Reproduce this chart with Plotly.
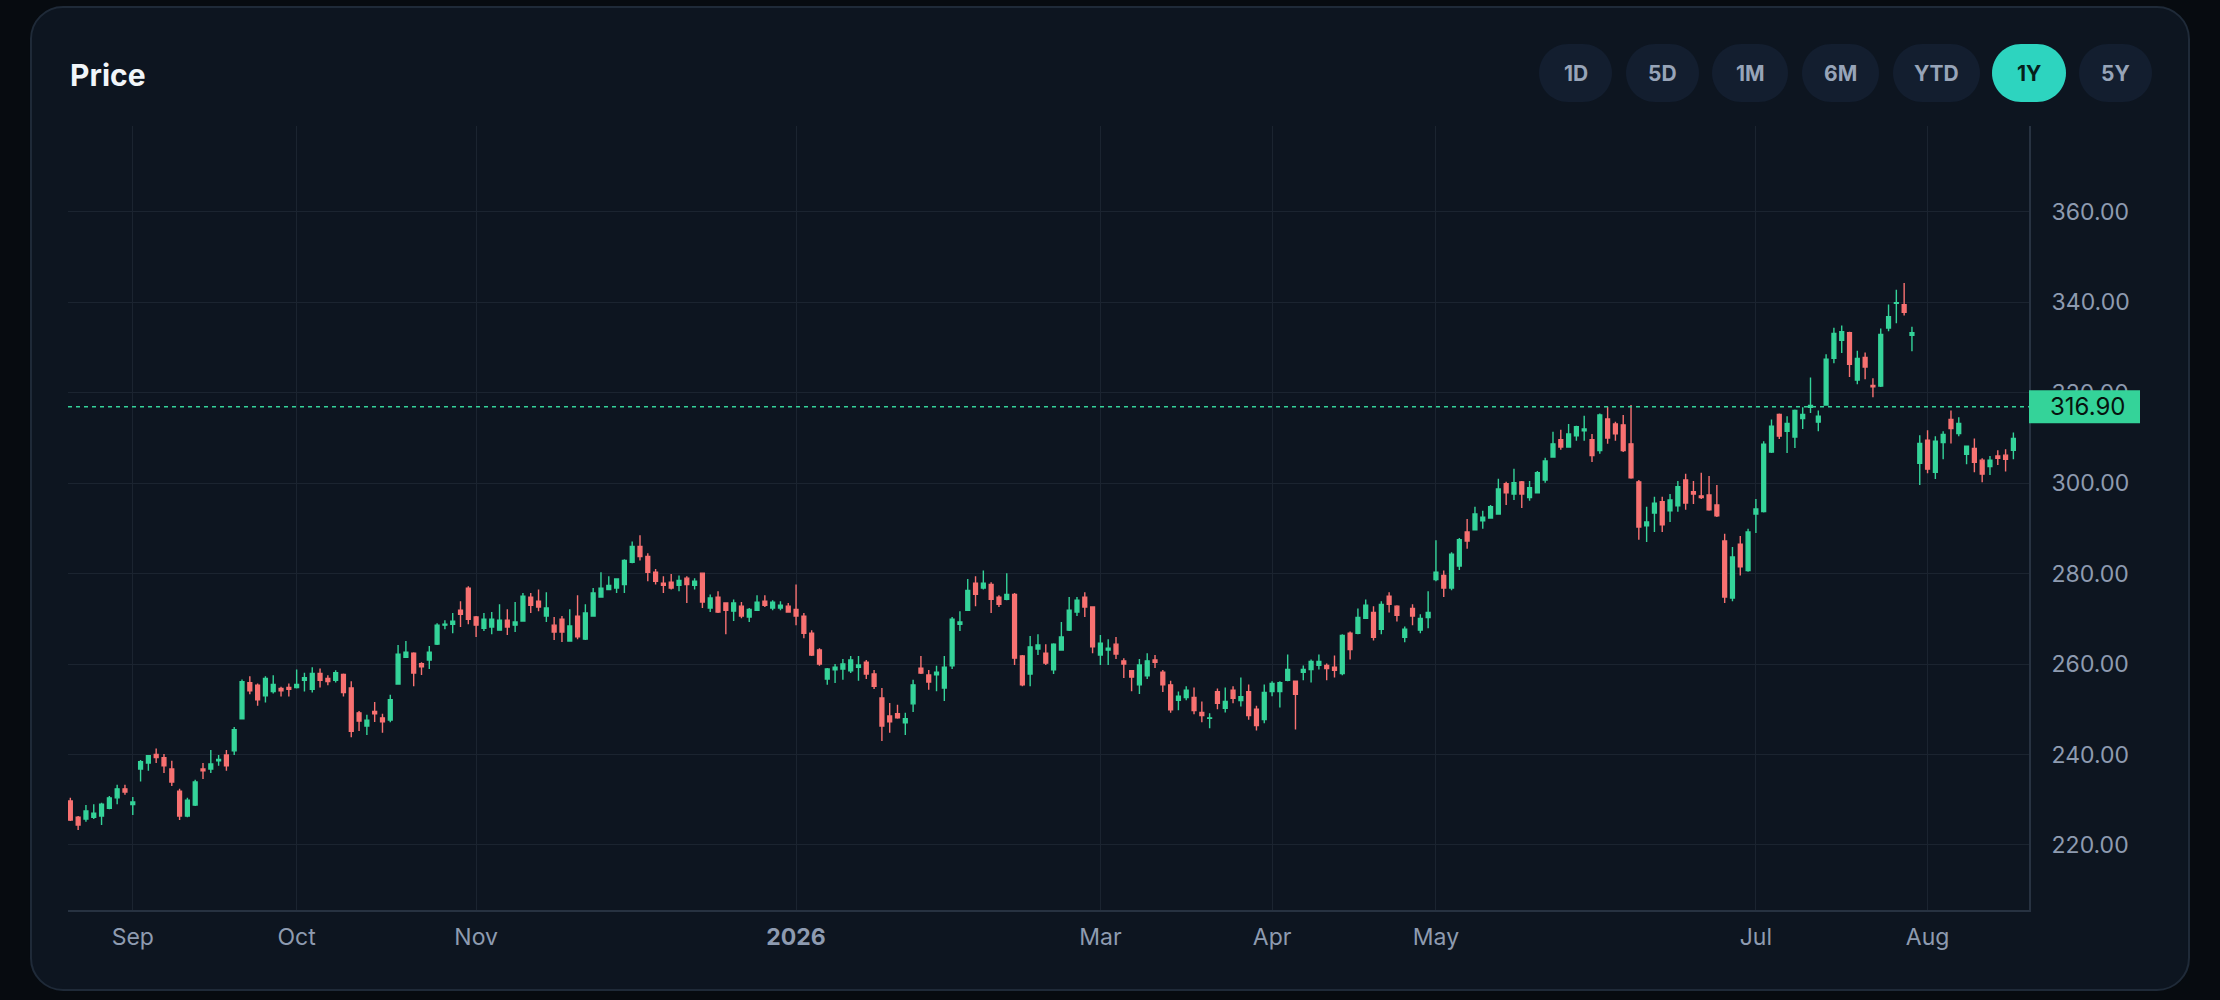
import pandas as pd
import plotly.graph_objects as go

# Trading calendar for the 1Y window (weekends and US market holidays are skipped)
START_DATE = "2025-08-20"
END_DATE = "2026-08-18"
HOLIDAYS = ["2025-09-01", "2025-11-27", "2025-12-25", "2026-01-01", "2026-01-19",
            "2026-02-16", "2026-04-03", "2026-05-25", "2026-06-19", "2026-07-03"]

# OHLC values
open_ = [229.7, 226.1, 225.7, 226.1, 226.4, 228.1, 230.4, 232.4, 228.9, 236.8,
         238.1, 240.0, 239.3, 236.8, 231.9, 226.4, 228.8, 236.8, 236.8, 238.6,
         239.9, 240.8, 247.9, 255.9, 255.3, 253.0, 253.9, 254.6, 254.8, 254.8,
         256.4, 254.4, 257.9, 256.8, 256.4, 257.7, 254.7, 249.2, 246.3, 249.5,
         248.1, 247.6, 255.6, 261.5, 262.4, 260.1, 260.9, 264.4, 268.6, 268.8,
         271.9, 276.8, 270.4, 267.9, 268.2, 267.5, 269.7, 268.6, 269.5, 274.8,
         273.9, 270.6, 268.6, 269.9, 265.1, 270.6, 265.5, 270.6, 274.8, 276.5,
         276.8, 277.6, 282.5, 286.0, 283.8, 280.3, 277.9, 278.1, 277.4, 279.0,
         277.4, 280.1, 272.4, 274.8, 273.5, 271.7, 272.8, 270.4, 271.9, 273.9,
         272.4, 272.4, 272.8, 272.1, 270.6, 266.8, 263.1, 256.7, 258.7, 258.9,
         258.5, 259.3, 260.4, 257.8, 252.5, 248.5, 249.0, 247.0, 251.2, 259.1,
         257.6, 257.6, 254.7, 259.6, 268.8, 271.9, 277.9, 276.8, 277.6, 274.8,
         274.3, 275.4, 261.8, 257.8, 263.3, 262.4, 258.7, 263.1, 267.5, 271.5,
         274.8, 272.6, 262.0, 263.1, 264.4, 260.7, 258.5, 255.4, 257.4, 260.9,
         258.2, 255.4, 252.0, 252.6, 252.6, 249.3, 248.0, 253.9, 250.2, 254.2,
         251.9, 253.9, 250.0, 247.7, 253.9, 253.9, 256.4, 256.2, 258.2, 258.8,
         259.7, 259.7, 259.3, 257.9, 266.8, 266.8, 270.1, 271.4, 267.7, 275.0,
         272.8, 265.9, 272.3, 267.5, 270.3, 278.7, 279.6, 276.8, 281.7, 289.2,
         289.7, 291.7, 292.3, 293.2, 299.9, 297.6, 300.3, 296.8, 297.9, 300.7,
         305.8, 309.6, 308.0, 310.5, 311.6, 309.6, 307.2, 314.2, 313.1, 312.9,
         308.7, 300.3, 290.6, 293.4, 295.9, 293.9, 295.0, 300.7, 298.1, 297.2,
         297.4, 295.2, 287.2, 274.6, 286.5, 280.7, 293.2, 293.7, 306.9, 315.2,
         311.5, 310.2, 314.3, 316.8, 313.5, 317.3, 327.6, 331.6, 333.3, 322.8,
         327.8, 321.6, 321.5, 334.3, 339.8, 339.5, 332.7, 304.4, 309.5, 302.4,
         309.0, 314.1, 311.0, 306.4, 307.7, 305.1, 303.7, 306.0, 306.2, 307.3]
high = [230.4, 226.4, 228.8, 229.0, 229.3, 230.8, 233.3, 233.3, 230.6, 238.8,
        239.7, 241.3, 240.1, 238.6, 232.4, 230.4, 234.4, 238.1, 241.0, 239.9,
        241.0, 246.1, 256.6, 257.3, 255.7, 257.3, 257.5, 255.0, 255.7, 258.8,
        258.1, 259.3, 259.0, 257.5, 258.6, 257.9, 256.2, 249.6, 248.8, 251.6,
        249.0, 253.2, 264.2, 265.1, 262.6, 260.4, 264.0, 269.0, 269.7, 271.3,
        273.9, 277.2, 270.6, 271.3, 271.5, 273.2, 272.1, 273.7, 275.7, 275.7,
        276.5, 275.9, 270.4, 270.6, 272.1, 275.2, 273.2, 276.8, 280.3, 279.4,
        278.8, 283.2, 287.1, 288.5, 284.5, 281.0, 279.4, 279.9, 279.6, 279.4,
        279.0, 280.1, 275.4, 276.1, 273.5, 274.3, 273.7, 272.4, 275.2, 275.2,
        274.1, 273.9, 273.5, 277.6, 271.3, 267.5, 263.5, 259.1, 260.0, 261.1,
        261.8, 261.8, 260.9, 258.7, 254.7, 251.4, 251.0, 249.2, 256.5, 261.8,
        258.7, 259.6, 261.8, 270.4, 271.7, 278.8, 279.4, 280.7, 278.1, 275.2,
        280.1, 275.7, 262.0, 266.2, 266.6, 264.4, 264.6, 269.3, 274.8, 274.8,
        275.9, 272.6, 266.4, 265.5, 266.0, 261.3, 258.7, 261.1, 262.4, 262.0,
        258.7, 256.3, 253.9, 255.1, 254.8, 251.7, 249.1, 254.6, 254.8, 255.1,
        257.0, 255.5, 250.8, 255.5, 256.2, 256.2, 262.1, 256.2, 259.7, 261.0,
        262.1, 260.1, 261.9, 266.6, 267.2, 272.3, 274.3, 272.8, 273.9, 275.9,
        273.0, 268.3, 273.2, 271.0, 276.1, 287.4, 280.7, 284.7, 287.9, 292.1,
        294.8, 293.9, 295.2, 301.0, 300.3, 303.2, 300.5, 300.5, 302.7, 305.6,
        311.4, 311.8, 313.1, 312.7, 314.9, 310.9, 315.4, 316.9, 313.6, 315.1,
        317.3, 300.7, 294.8, 297.0, 297.0, 297.6, 300.5, 302.1, 300.5, 302.3,
        301.6, 299.6, 288.8, 285.9, 288.3, 289.9, 296.5, 309.3, 314.1, 315.4,
        314.8, 316.3, 316.8, 323.4, 316.1, 328.5, 334.4, 334.9, 333.5, 329.3,
        328.9, 323.2, 334.2, 339.5, 342.8, 344.3, 334.6, 310.6, 311.7, 310.4,
        311.5, 316.1, 314.6, 308.2, 309.9, 305.5, 306.0, 307.3, 307.5, 311.2]
low = [225.3, 223.3, 225.1, 225.7, 224.4, 227.9, 229.0, 231.1, 226.6, 234.0,
       236.4, 238.1, 235.9, 233.0, 225.5, 226.1, 228.6, 234.6, 235.9, 237.5,
       236.4, 239.9, 247.9, 253.3, 250.8, 251.5, 253.5, 252.8, 252.8, 254.6,
       253.9, 253.7, 254.8, 255.3, 255.9, 252.8, 243.8, 245.2, 244.3, 247.2,
       244.8, 247.1, 255.4, 261.5, 255.1, 257.6, 258.9, 264.2, 267.7, 266.8,
       268.2, 268.8, 266.0, 267.3, 266.6, 267.5, 266.4, 267.1, 269.5, 271.3,
       271.7, 269.3, 265.3, 264.9, 265.1, 265.5, 265.3, 270.6, 274.8, 276.3,
       275.7, 275.7, 282.3, 282.9, 278.3, 277.6, 275.7, 276.5, 276.1, 273.5,
       276.5, 272.4, 271.5, 271.3, 266.6, 269.5, 270.1, 269.3, 271.9, 272.6,
       271.9, 271.9, 271.5, 268.6, 265.7, 261.8, 259.6, 255.4, 255.8, 256.5,
       258.0, 256.3, 256.7, 254.5, 243.0, 244.8, 247.9, 244.3, 249.4, 257.8,
       254.3, 254.0, 251.8, 258.9, 267.3, 271.9, 272.8, 276.5, 271.3, 272.6,
       274.1, 259.8, 255.1, 255.1, 262.0, 259.8, 257.8, 263.1, 267.3, 270.6,
       270.4, 262.4, 259.8, 259.8, 261.1, 256.9, 254.0, 253.4, 256.7, 259.1,
       253.8, 249.2, 249.8, 252.0, 248.9, 247.1, 245.8, 250.0, 249.3, 251.3,
       250.6, 247.7, 245.3, 246.9, 252.9, 250.4, 256.2, 245.5, 256.4, 255.9,
       258.8, 256.4, 257.0, 257.5, 261.0, 266.6, 270.1, 265.2, 266.6, 271.4,
       269.4, 264.8, 268.6, 266.8, 267.9, 278.3, 274.8, 276.3, 280.8, 285.5,
       289.7, 289.9, 292.3, 293.2, 295.2, 296.3, 294.5, 296.1, 297.9, 300.1,
       305.6, 307.4, 308.0, 309.4, 309.4, 304.7, 306.5, 308.7, 309.4, 306.9,
       301.0, 287.5, 287.0, 289.2, 289.2, 291.4, 293.7, 294.1, 295.4, 296.5,
       293.9, 292.5, 273.5, 273.9, 279.6, 280.4, 289.0, 293.5, 306.7, 309.8,
       306.7, 307.8, 312.0, 315.5, 311.5, 317.1, 326.5, 328.8, 323.5, 321.9,
       323.0, 319.0, 321.3, 333.6, 335.4, 337.1, 329.2, 299.6, 302.2, 300.9,
       305.3, 308.8, 310.4, 304.2, 302.4, 300.2, 301.8, 304.0, 302.6, 305.3]
close = [225.5, 224.4, 227.5, 227.0, 229.0, 230.4, 232.4, 231.7, 229.5, 238.4,
         239.7, 239.3, 237.5, 233.9, 226.4, 229.9, 233.9, 236.4, 237.9, 238.9,
         237.5, 245.5, 256.1, 254.1, 252.1, 256.8, 255.5, 254.1, 254.4, 255.5,
         257.0, 257.9, 256.4, 256.1, 258.1, 253.7, 245.1, 247.4, 247.6, 249.0,
         247.2, 252.1, 262.2, 262.6, 258.0, 259.4, 262.6, 268.6, 268.8, 269.5,
         271.0, 269.9, 268.6, 269.9, 269.9, 269.7, 268.2, 269.3, 275.0, 273.0,
         272.6, 272.4, 267.1, 267.1, 268.4, 266.0, 271.3, 275.7, 276.8, 277.4,
         278.8, 282.9, 286.0, 283.8, 280.3, 278.3, 277.4, 276.8, 278.5, 277.6,
         278.3, 273.7, 274.6, 271.5, 271.9, 273.5, 270.6, 272.1, 273.7, 273.0,
         273.7, 273.0, 271.5, 270.6, 266.8, 262.0, 260.0, 258.9, 259.3, 260.0,
         260.9, 259.8, 257.8, 255.1, 246.3, 247.2, 248.1, 247.9, 255.4, 258.0,
         256.0, 258.2, 259.3, 269.9, 269.3, 276.3, 275.4, 277.9, 274.3, 273.2,
         275.4, 261.3, 255.4, 263.8, 264.2, 260.2, 264.4, 266.0, 271.9, 274.1,
         272.6, 263.8, 264.6, 263.5, 262.2, 260.0, 257.1, 259.8, 260.7, 260.4,
         255.4, 249.9, 252.9, 254.2, 249.7, 248.6, 248.1, 251.3, 251.7, 252.4,
         252.8, 248.6, 246.4, 253.7, 255.7, 255.9, 258.8, 253.3, 258.8, 260.6,
         260.6, 259.0, 258.6, 266.3, 263.2, 270.3, 273.0, 265.9, 273.2, 273.2,
         270.8, 267.7, 270.6, 270.1, 271.4, 280.3, 276.8, 284.3, 287.5, 287.2,
         293.2, 292.5, 294.8, 298.7, 297.9, 300.1, 297.6, 299.0, 302.3, 304.9,
         308.7, 308.0, 310.9, 312.5, 312.0, 306.1, 315.1, 310.0, 310.9, 307.2,
         301.2, 290.3, 291.4, 295.6, 290.8, 296.3, 299.2, 295.6, 297.6, 296.8,
         294.1, 292.8, 274.8, 283.7, 281.5, 289.2, 294.3, 308.6, 312.6, 310.4,
         313.2, 316.1, 315.2, 317.2, 314.8, 327.4, 333.1, 333.5, 326.3, 327.6,
         325.7, 321.3, 332.9, 336.8, 339.9, 337.8, 333.3, 308.8, 303.1, 309.3,
         310.8, 312.1, 313.2, 308.2, 304.6, 302.0, 305.1, 305.5, 305.3, 309.9]

LAST_PRICE = 316.90

# Axis ticks
y_ticks = [220, 240, 260, 280, 300, 320, 340, 360]
x_tick_dates = ["2025-09-02", "2025-10-01", "2025-11-03", "2026-01-02", "2026-03-02",
                "2026-04-01", "2026-05-01", "2026-07-01", "2026-08-03"]
x_tick_text = ["Sep", "Oct", "Nov", "<b>2026</b>", "Mar", "Apr", "May", "Jul", "Aug"]

range_buttons = ["1D", "5D", "1M", "6M", "YTD", "1Y", "5Y"]
active_button = "1Y"

dates = pd.bdate_range(START_DATE, END_DATE, freq="C", holidays=HOLIDAYS).strftime("%Y-%m-%d")

# Layout geometry (pixels)
W, H = 2220, 1000
ML, MR, MT, MB = 68, 191, 126, 90
PW = W - ML - MR
PH = H - MT - MB
Y_RANGE = [205.6, 379.0]

FONT = "Inter, Roboto, sans-serif"
UP = "#34d399"
DOWN = "#f87171"
TEAL = "#2dd4bf"
PAGE_BG = "#070b10"


def px(x):
    return (x - ML) / PW


def py(y):
    return (H - MB - y) / PH


def rounded_rect(x0, y0, x1, y1, r):
    # rounded rectangle as an svg path in paper coords (cubic corners)
    c = r * 0.5523
    pts = [
        ("M", [(x0 + r, y0)]),
        ("L", [(x1 - r, y0)]),
        ("C", [(x1 - r + c, y0), (x1, y0 + r - c), (x1, y0 + r)]),
        ("L", [(x1, y1 - r)]),
        ("C", [(x1, y1 - r + c), (x1 - r + c, y1), (x1 - r, y1)]),
        ("L", [(x0 + r, y1)]),
        ("C", [(x0 + r - c, y1), (x0, y1 - r + c), (x0, y1 - r)]),
        ("L", [(x0, y0 + r)]),
        ("C", [(x0, y0 + r - c), (x0 + r - c, y0), (x0 + r, y0)]),
    ]
    out = ""
    for cmd, coords in pts:
        out += cmd + " ".join("%.5f,%.5f" % (px(a), py(b)) for a, b in coords) + " "
    return out + "Z"


fig = go.Figure()

fig.add_trace(go.Candlestick(
    x=dates,
    open=open_, high=high, low=low, close=close,
    increasing=dict(line=dict(color=UP, width=1.4), fillcolor=UP),
    decreasing=dict(line=dict(color=DOWN, width=1.4), fillcolor=DOWN),
    whiskerwidth=0,
    showlegend=False,
))

shapes = []
# card
shapes.append(dict(type="path", path=rounded_rect(31, 7, 2189, 990, 32),
                   xref="paper", yref="paper", layer="below",
                   fillcolor="#0d1520", line=dict(color="#1f2a38", width=2)))

# range pills
pill_x = [(1539, 1612), (1626, 1699), (1712, 1788), (1802, 1879),
          (1893, 1980), (1992, 2066), (2079, 2152)]
annotations = []
for label, (x0, x1) in zip(range_buttons, pill_x):
    active = label == active_button
    shapes.append(dict(type="path", path=rounded_rect(x0, 44, x1, 102, 29),
                       xref="paper", yref="paper", layer="above",
                       fillcolor=TEAL if active else "#131e2f", line=dict(width=0)))
    annotations.append(dict(text="<b>%s</b>" % label, x=px((x0 + x1) / 2), y=py(73),
                            xref="paper", yref="paper", showarrow=False,
                            xanchor="center", yanchor="middle",
                            font=dict(family=FONT, size=21,
                                      color="#06201c" if active else "#97a4b8")))

# last price line and tag
shapes.append(dict(type="line", xref="paper", yref="y", x0=0, x1=1,
                   y0=LAST_PRICE, y1=LAST_PRICE,
                   line=dict(color=UP, width=1.6, dash="4px,4px")))
tag_mid = (LAST_PRICE - Y_RANGE[0]) / (Y_RANGE[1] - Y_RANGE[0])
tag_half = 16.5 / PH
shapes.append(dict(type="rect", xref="paper", yref="paper",
                   x0=1, x1=px(2140), y0=tag_mid - tag_half, y1=tag_mid + tag_half,
                   fillcolor=UP, line=dict(width=0), layer="above"))
annotations.append(dict(text="%.2f" % LAST_PRICE, x=px(2087), y=tag_mid,
                        xref="paper", yref="paper", showarrow=False,
                        xanchor="center", yanchor="middle",
                        font=dict(family=FONT, size=24, color="#06130f")))

# title
annotations.append(dict(text="<b>Price</b>", x=px(68), y=py(75), xref="paper", yref="paper",
                        showarrow=False, xanchor="left", yanchor="middle",
                        font=dict(family=FONT, size=30, color="#f1f5f9")))

fig.update_layout(
    width=W, height=H,
    margin=dict(l=ML, r=MR, t=MT, b=MB),
    paper_bgcolor=PAGE_BG,
    plot_bgcolor="rgba(0,0,0,0)",
    font=dict(family=FONT, size=23, color="#8e9bb0"),
    shapes=shapes,
    annotations=annotations,
    boxgap=0.3,
    xaxis=dict(
        type="category",
        range=[-0.3, 251],
        tickvals=x_tick_dates,
        ticktext=x_tick_text,
        showgrid=True, gridcolor="#1b2430", gridwidth=1,
        showline=True, linecolor="#273241", linewidth=2,
        ticks="outside", ticklen=5, tickcolor="rgba(0,0,0,0)",
        rangeslider=dict(visible=False),
        tickfont=dict(family=FONT, size=23, color="#8e9bb0"),
    ),
    yaxis=dict(
        side="right",
        range=Y_RANGE,
        tickvals=y_ticks,
        tickformat=".2f",
        showgrid=True, gridcolor="#1b2430", gridwidth=1,
        showline=True, linecolor="#273241", linewidth=2,
        zeroline=False,
        ticks="outside", ticklen=16, tickcolor="rgba(0,0,0,0)",
        tickfont=dict(family=FONT, size=23, color="#8e9bb0"),
    ),
)

# drop the page's default body margin so the figure sits at the window's corner
page_js = ("document.body.style.margin='0';"
           "document.body.style.overflow='hidden';"
           "document.body.style.background='" + PAGE_BG + "';")

fig.write_html("out.html", post_script=page_js, config={"displayModeBar": False})
